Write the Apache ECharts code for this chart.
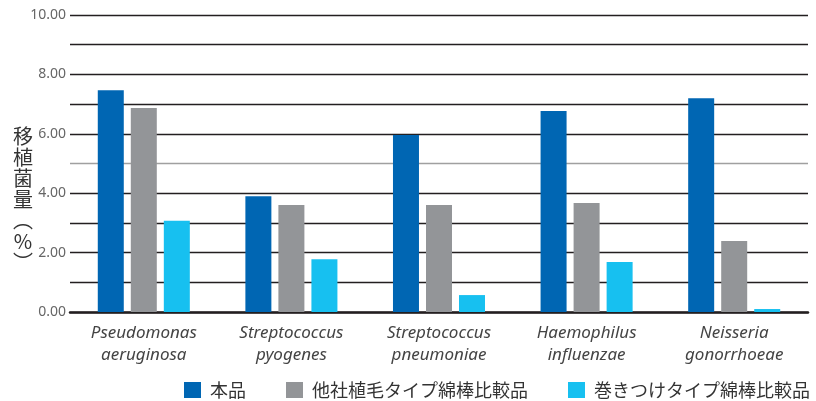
<!DOCTYPE html>
<html>
<head>
<meta charset="utf-8">
<script src="https://cdn.jsdelivr.net/npm/echarts@6/dist/echarts.min.js"></script>
<style>
  html, body { margin: 0; padding: 0; background: #fff; }
  #chart { width: 816px; height: 401px; }
</style>
</head>
<body>
<div id="chart"></div>
<script>
// カテゴリ（菌種）
const categories = [
  'Pseudomonas\naeruginosa',
  'Streptococcus\npyogenes',
  'Streptococcus\npneumoniae',
  'Haemophilus\ninfluenzae',
  'Neisseria\ngonorrhoeae'
]

// 系列名
const seriesNames = ['本品', '他社植毛タイプ綿棒比較品', '巻きつけタイプ綿棒比較品']

// 移植菌量（%）
const honpin = [7.47, 3.90, 5.96, 6.77, 7.20]
const shokumou = [6.87, 3.60, 3.60, 3.67, 2.39]
const makitsuke = [3.07, 1.78, 0.57, 1.68, 0.10]

// y軸
const yMin = 0
const yMax = 10
const yStep = 1

const colors = ['#0066B3', '#939598', '#17C0F0']

// 5.00 の線だけ灰色
const gridColors = []
for (let i = 0; i <= 10; i++) gridColors.push(i === 5 ? '#a0a0a0' : '#231F20')

const chart = echarts.init(document.getElementById('chart'))

const barStyle = {
  type: 'bar',
  barWidth: 26,
  barGap: '27%'
}

const option = {
  animation: false,
  color: colors,
  title: {
    text: '移\n植\n菌\n量\n︵\n%\n︶',
    left: 18,
    top: 121,
    textAlign: 'center',
    textStyle: {
      fontFamily: 'Noto Sans CJK JP',
      fontSize: 20,
      fontWeight: 'normal',
      lineHeight: 21,
      color: '#333'
    }
  },
  grid: {
    left: 70,
    right: 8,
    top: 15,
    bottom: 89
  },
  legend: {
    data: seriesNames,
    left: 184,
    top: 381,
    width: 632,
    padding: 0,
    itemWidth: 17,
    itemHeight: 16,
    itemGap: 40,
    icon: 'rect',
    textStyle: {
      fontFamily: 'Noto Sans CJK JP',
      fontSize: 18,
      color: '#333',
      padding: [0, 0, 0, 4]
    }
  },
  xAxis: {
    type: 'category',
    data: categories,
    axisTick: { show: false },
    axisLine: {
      lineStyle: { color: '#231F20', width: 2.5 }
    },
    axisLabel: {
      margin: 10,
      fontFamily: 'Noto Sans',
      fontStyle: 'italic',
      fontSize: 17,
      lineHeight: 22,
      color: '#444'
    }
  },
  yAxis: {
    type: 'value',
    min: yMin,
    max: yMax,
    interval: yStep,
    axisLine: { show: false },
    axisTick: { show: false },
    axisLabel: {
      margin: 4,
      fontFamily: 'Noto Sans',
      fontSize: 14,
      color: '#666',
      formatter: (v) => (v % 2 === 0 ? v.toFixed(2) : '')
    },
    splitLine: {
      lineStyle: { color: gridColors, width: 1.3 }
    }
  },
  series: [
    { ...barStyle, name: seriesNames[0], data: honpin },
    { ...barStyle, name: seriesNames[1], data: shokumou },
    { ...barStyle, name: seriesNames[2], data: makitsuke }
  ]
}

chart.setOption(option)
</script>
</body>
</html>
